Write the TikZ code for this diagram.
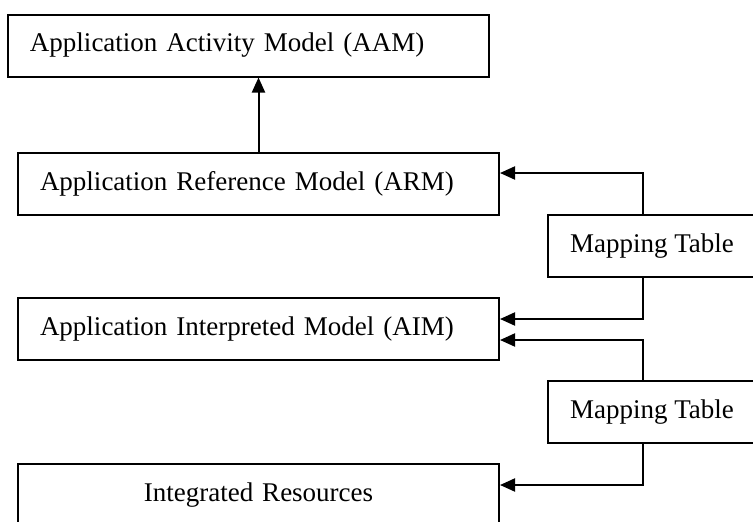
\documentclass[tikz,border=0pt]{standalone}
\usepackage{fontspec}
\setmainfont{Liberation Serif}
\usetikzlibrary{arrows.meta}
\tikzset{
    modelbox/.style={draw, line width=2pt, minimum width=481pt, minimum height=62pt, text width=437pt, inner xsep=22pt, align=left, font=\fontsize{27}{32}\selectfont},
    mapbox/.style={draw, line width=2pt, minimum width=208pt, minimum height=62pt, align=center, font=\fontsize{27}{32}\selectfont},
    maparrow/.style={-{Triangle[length=15pt, width=13pt]}, line width=2pt}
}

\begin{document}
\begin{tikzpicture}[x=1pt, y=-1pt]
  \clip (0,0) rectangle (753,522);
  \node[modelbox] (aam) at (248.5,45.5) {Application Activity Model (AAM)};
  \node[modelbox] (arm) at (258.5,184) {Application Reference Model (ARM)};
  \node[modelbox] (aim) at (258.5,329) {Application Interpreted Model (AIM)};
  \node[modelbox, align=center] (ir) at (258.5,495) {Integrated Resources};
  \node[mapbox] (mt1) at (652,246) {Mapping Table};
  \node[mapbox] (mt2) at (652,412) {Mapping Table};

  \draw[maparrow] (arm.north) -- (arm.north |- aam.south);
  \draw[maparrow] ([xshift=-9pt]mt1.north) |- ([yshift=11pt]arm.east);
  \draw[maparrow] ([xshift=-9pt]mt1.south) |- ([yshift=10pt]aim.east);
  \draw[maparrow] ([xshift=-9pt]mt2.north) |- ([yshift=-11pt]aim.east);
  \draw[maparrow] ([xshift=-9pt]mt2.south) |- ([yshift=10pt]ir.east);
\end{tikzpicture}
\end{document}
